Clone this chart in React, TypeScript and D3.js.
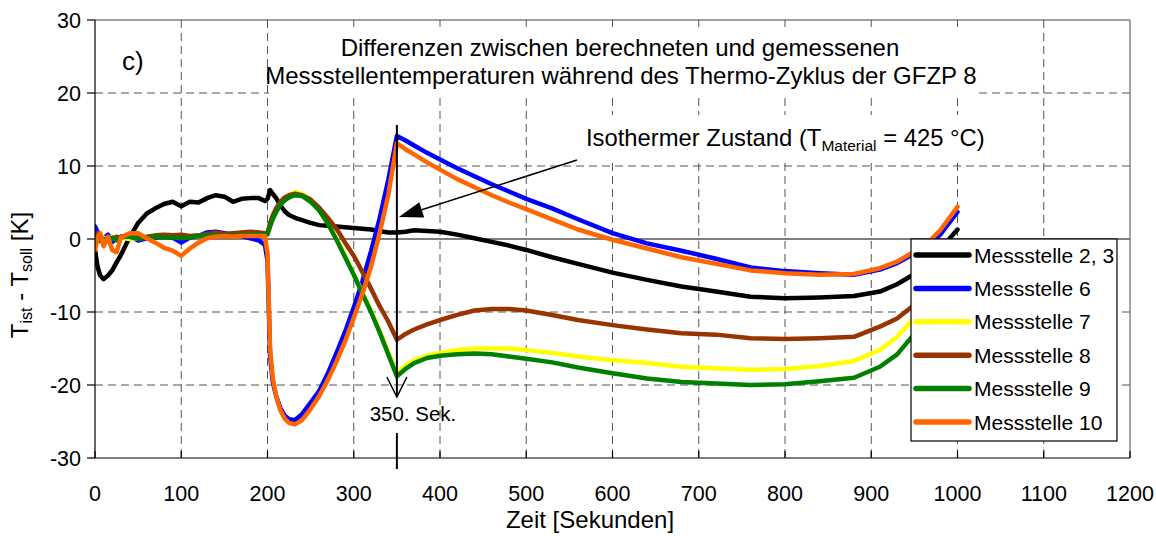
import React from "react";
import * as d3 from "d3";

const timeSec = [0,3,6,10,15,20,25,30,40,50,60,70,80,90,100,110,120,130,140,150,160,170,180,190,197,200,203,206,210,215,220,225,232,240,250,260,270,280,290,300,310,320,330,340,350,360,370,385,400,420,440,460,480,500,530,560,600,640,680,720,760,800,840,880,910,930,950,965,980,1000];

const ms23 = [-1.5,-3.8,-5.0,-5.5,-5.0,-4.3,-3.2,-2.2,0.2,2.2,3.5,4.2,4.8,5.1,4.5,5.1,5.0,5.6,6.0,5.8,5.1,5.5,5.6,5.6,5.2,5.5,6.7,6.2,5.6,4.6,3.8,3.3,2.9,2.6,2.2,1.9,1.8,1.7,1.6,1.5,1.4,1.3,1.1,0.9,0.9,1.0,1.2,1.1,1.0,0.6,0.1,-0.4,-0.9,-1.5,-2.5,-3.4,-4.6,-5.6,-6.5,-7.2,-7.9,-8.1,-8.0,-7.8,-7.2,-6.2,-4.8,-3.4,-1.4,1.3];
const ms6 = [1.7,1.0,-0.2,0.1,0.6,-0.4,0.1,0.3,0.5,-0.2,0.1,0.2,0.3,0.2,-0.5,0.2,0.4,0.9,1.0,0.8,0.6,0.4,0.1,-0.2,-0.8,-3.0,-16.0,-19.5,-21.5,-23.2,-24.2,-24.7,-24.8,-24.0,-22.4,-20.8,-18.4,-15.6,-12.7,-9.4,-5.8,-1.7,2.8,8.1,14.1,13.5,12.8,11.8,10.9,9.7,8.6,7.5,6.5,5.5,4.2,2.7,0.8,-0.6,-1.6,-2.7,-3.9,-4.4,-4.7,-4.9,-4.2,-3.3,-2.0,-1.0,0.6,3.7];
const ms7 = [0.4,0.3,0.0,0.2,-0.2,0.3,0.0,0.2,0.0,0.1,0.2,0.3,0.3,0.3,0.2,0.3,0.4,0.6,0.7,0.6,0.6,0.6,0.7,0.7,0.7,0.7,1.9,2.9,3.9,4.9,5.6,6.0,6.4,6.2,5.3,4.0,2.2,0.0,-2.3,-4.8,-7.3,-9.8,-12.6,-15.5,-18.4,-17.3,-16.6,-16.0,-15.6,-15.2,-15.0,-15.0,-15.0,-15.2,-15.6,-16.1,-16.6,-17.0,-17.5,-17.7,-17.9,-17.8,-17.4,-16.7,-15.2,-13.4,-10.8,-8.5,-5.8,-2.0];
const ms8 = [0.6,0.8,0.3,-0.3,0.2,0.0,0.3,0.2,0.4,0.2,0.3,0.5,0.6,0.5,0.6,0.4,0.5,0.7,0.9,0.7,0.8,0.9,1.0,0.9,0.8,0.8,2.2,3.2,4.2,5.1,5.7,6.0,6.2,6.0,5.4,4.3,2.9,1.4,-0.5,-2.3,-4.5,-6.8,-9.2,-11.3,-13.8,-13.0,-12.4,-11.7,-11.1,-10.4,-9.8,-9.6,-9.6,-9.8,-10.4,-11.1,-11.8,-12.4,-12.9,-13.1,-13.6,-13.7,-13.6,-13.4,-12.0,-10.9,-9.0,-7.2,-5.0,-1.5];
const ms9 = [0.3,0.2,-0.3,0.0,-0.3,0.2,-0.2,0.3,0.3,0.0,0.2,0.3,0.2,0.2,0.1,0.2,0.4,0.5,0.5,0.4,0.5,0.5,0.6,0.6,0.6,0.6,1.7,2.7,3.7,4.7,5.3,5.7,6.0,5.9,5.1,3.9,2.1,-0.1,-2.5,-4.9,-7.5,-10.0,-12.8,-15.8,-18.8,-17.8,-17.0,-16.3,-16.0,-15.8,-15.7,-15.8,-16.1,-16.4,-16.9,-17.6,-18.4,-19.1,-19.6,-19.8,-20.0,-19.9,-19.5,-19.0,-17.5,-15.8,-13.0,-10.5,-7.5,-3.5];
const ms10 = [-1.5,0.2,0.8,-1.0,0.3,-1.5,-1.8,0.2,0.8,0.8,0.1,-0.5,-1.2,-1.6,-2.3,-1.3,-0.5,0.1,0.3,0.4,0.3,0.4,0.4,0.4,0.4,-2.0,-15.0,-19.0,-21.5,-23.5,-24.6,-25.2,-25.4,-24.8,-23.3,-21.5,-19.3,-16.8,-14.0,-10.8,-7.5,-3.8,0.8,6.0,13.1,12.3,11.6,10.5,9.5,8.2,7.1,6.0,5.0,4.1,2.7,1.3,-0.1,-1.3,-2.5,-3.4,-4.3,-4.7,-4.9,-4.8,-4.0,-3.1,-1.7,-0.6,1.2,4.4];

const seriesNames = ["Messstelle 2, 3","Messstelle 6","Messstelle 7","Messstelle 8","Messstelle 9","Messstelle 10"];
const seriesValues = [ms23, ms6, ms7, ms8, ms9, ms10];
const seriesColors = ["#000000","#0000ff","#ffff00","#993300","#008000","#ff6600"];

const xTicks = [0,100,200,300,400,500,600,700,800,900,1000,1100,1200];
const yTicks = [-30,-20,-10,0,10,20,30];

const W = 1156, H = 536;
const L = 95, R = 1130, T = 20, B = 458;
const FONT = "Arial, 'Liberation Sans', sans-serif";

export default function App() {
  const x = d3.scaleLinear().domain([0, 1200]).range([L, R]);
  const y = d3.scaleLinear().domain([-30, 30]).range([B, T]);
  const line = d3.line<number>().x((_, i) => x(timeSec[i])).y((v) => y(v));

  const ax1 = 577, ay1 = 160;
  const ax2 = x(350) + 2, ay2 = y(3);
  const ang = Math.atan2(ay2 - ay1, ax2 - ax1);
  const hl = 24, hw = 8;
  const bx = ax2 - hl * Math.cos(ang), by = ay2 - hl * Math.sin(ang);
  const px = -Math.sin(ang) * hw, py = Math.cos(ang) * hw;

  const x350 = x(350);
  const legX = 911, legY = 239, legW = 206, legH = 202;

  return (
    <svg width={W} height={H} style={{ position: "absolute", left: 0, top: 0, background: "#fff" }} fontFamily={FONT}>
      <defs>
        <clipPath id="plotclip"><rect x={L} y={T} width={R - L} height={B - T} /></clipPath>
      </defs>
      <rect x={0} y={0} width={W} height={H} fill="#fff" />
      {xTicks.filter((t) => t > 0 && t < 1200).map((t) => (
        <line key={"gx" + t} x1={x(t)} x2={x(t)} y1={T} y2={B} stroke="#555" strokeDasharray="8,5" strokeWidth={1} />
      ))}
      {yTicks.filter((t) => t !== 0 && t > -30 && t < 30).map((t) => (
        <line key={"gy" + t} x1={L} x2={R} y1={y(t)} y2={y(t)} stroke="#555" strokeDasharray="8,5" strokeWidth={1} />
      ))}
      <line x1={L} x2={R} y1={y(0)} y2={y(0)} stroke="#000" strokeWidth={1.2} />

      <rect x={269} y={27} width={710} height={70} fill="#fff" />
      <text x={620} y={56} fontSize={24} textAnchor="middle" fill="#000">Differenzen zwischen berechneten und gemessenen</text>
      <text x={621} y={84} fontSize={24} textAnchor="middle" fill="#000">Messstellentemperaturen während des Thermo-Zyklus der GFZP 8</text>
      <text x={122} y={70} fontSize={26} fill="#000">c)</text>

      <rect x={580} y={115} width={408} height={45} fill="#fff" />
      <text x={586} y={146} fontSize={23.8} fill="#000">
        Isothermer Zustand (T<tspan fontSize={15.5} dy={5}>Material</tspan><tspan dy={-5}> = 425 °C)</tspan>
      </text>

      <g clipPath="url(#plotclip)">
        {seriesValues.map((vals, i) => (
          <path key={seriesNames[i]} d={line(vals) || ""} fill="none" stroke={seriesColors[i]} strokeWidth={4.5} strokeLinejoin="round" strokeLinecap="round" />
        ))}
      </g>

      <line x1={x350} x2={x350} y1={125} y2={397} stroke="#000" strokeWidth={2} />
      <polyline points={`${x350 - 10},377 ${x350},397 ${x350 + 10},377`} fill="none" stroke="#000" strokeWidth={1.5} />
      <line x1={x350} x2={x350} y1={433} y2={469} stroke="#000" strokeWidth={2} />
      <text x={413} y={421} fontSize={20.5} textAnchor="middle" fill="#000">350. Sek.</text>

      <line x1={ax1} y1={ay1} x2={bx} y2={by} stroke="#000" strokeWidth={1.5} />
      <polygon points={`${ax2},${ay2} ${bx + px},${by + py} ${bx - px},${by - py}`} fill="#000" />

      <rect x={legX} y={legY} width={legW} height={legH} fill="#fff" stroke="#000" strokeWidth={1.2} />
      {seriesNames.map((n, i) => {
        const cy = 255 + i * 33.4;
        return (
          <g key={"lg" + n}>
            <line x1={916} x2={969} y1={cy} y2={cy} stroke={seriesColors[i]} strokeWidth={5.5} strokeLinecap="round" />
            <text x={974} y={cy + 7.5} fontSize={21} fill="#000">{n}</text>
          </g>
        );
      })}

      <line x1={L} x2={R} y1={T} y2={T} stroke="#444" strokeWidth={1.2} />
      <line x1={R} x2={R} y1={T} y2={B} stroke="#666" strokeWidth={1.2} />
      <line x1={L} x2={L} y1={T} y2={B} stroke="#000" strokeWidth={1.2} />
      <line x1={L} x2={R} y1={B} y2={B} stroke="#000" strokeWidth={1.2} />

      {yTicks.map((t) => (
        <g key={"yt" + t}>
          <line x1={L - 8} x2={L} y1={y(t)} y2={y(t)} stroke="#000" strokeWidth={1.2} />
          <text x={81} y={y(t) + 7.7} fontSize={21.5} textAnchor="end" fill="#000">{t}</text>
        </g>
      ))}
      {xTicks.map((t) => (
        <g key={"xt" + t}>
          <line x1={x(t)} x2={x(t)} y1={B - 7} y2={B} stroke="#000" strokeWidth={1.2} />
          <text x={x(t)} y={501} fontSize={21.5} textAnchor="middle" fill="#000">{t}</text>
        </g>
      ))}

      <text x={590} y={528} fontSize={24} textAnchor="middle" fill="#000">Zeit [Sekunden]</text>
      <text transform="rotate(-90)" x={-275} y={28} fontSize={24} textAnchor="middle" fill="#000">
        T<tspan fontSize={16} dy={4}>ist</tspan><tspan dy={-4}> - T</tspan><tspan fontSize={16} dy={4}>soll</tspan><tspan dy={-4}> [K]</tspan>
      </text>
    </svg>
  );
}
